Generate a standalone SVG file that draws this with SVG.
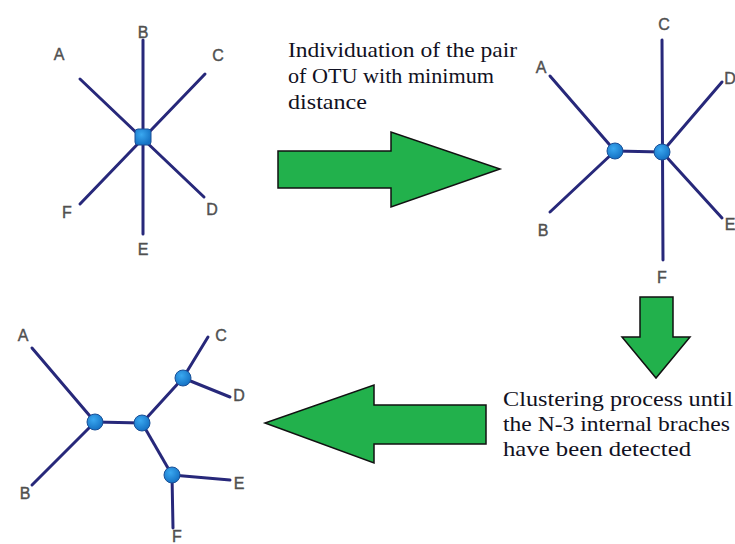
<svg xmlns="http://www.w3.org/2000/svg" width="735" height="544" viewBox="0 0 735 544">
<defs>
<radialGradient id="ng" cx="40%" cy="35%" r="65%">
<stop offset="0" stop-color="#3aa8f0"/>
<stop offset="1" stop-color="#1572c4"/>
</radialGradient>
<style>
.e{stroke:#27287a;stroke-width:3;stroke-linecap:round;fill:none}
.n{fill:url(#ng);stroke:#1a4f96;stroke-width:1}
.l{font-family:"Liberation Sans",Arial,sans-serif;font-size:16px;fill:#505050;stroke:#505050;stroke-width:0.4;text-anchor:middle}
.t{font-family:"Liberation Serif","Times New Roman",serif;font-size:21px;fill:#111122}
.a{fill:#22b14c;stroke:#111;stroke-width:1.5;stroke-linejoin:miter}
</style>
</defs>
<rect width="735" height="544" fill="#ffffff"/>
<g id="connectors">
<line class="e" x1="143" y1="40" x2="143" y2="234"/>
<line class="e" x1="80" y1="79" x2="204" y2="197"/>
<line class="e" x1="205" y1="74" x2="80" y2="204"/>
<line class="e" x1="550" y1="76" x2="615" y2="151"/>
<line class="e" x1="550" y1="212" x2="615" y2="151"/>
<line class="e" x1="615" y1="151" x2="662" y2="152"/>
<line class="e" x1="662" y1="40" x2="663" y2="260"/>
<line class="e" x1="662" y1="152" x2="722" y2="82"/>
<line class="e" x1="662" y1="152" x2="722" y2="218"/>
<line class="e" x1="32" y1="348" x2="95" y2="422"/>
<line class="e" x1="32" y1="485" x2="95" y2="422"/>
<line class="e" x1="95" y1="422" x2="142" y2="423"/>
<line class="e" x1="142" y1="423" x2="183" y2="378"/>
<line class="e" x1="183" y1="378" x2="208" y2="337"/>
<line class="e" x1="183" y1="378" x2="230" y2="397"/>
<line class="e" x1="142" y1="423" x2="172" y2="475"/>
<line class="e" x1="172" y1="475" x2="230" y2="480"/>
<line class="e" x1="172" y1="475" x2="173" y2="528"/>
</g>
<g id="tree1">
<rect class="n" x="135" y="129" width="16" height="16" rx="3"/>
<text class="l" x="143" y="38">B</text>
<text class="l" x="59" y="60">A</text>
<text class="l" x="218" y="61">C</text>
<text class="l" x="67" y="218">F</text>
<text class="l" x="212" y="215">D</text>
<text class="l" x="143" y="255">E</text>
</g>
<g id="tree2">
<circle class="n" cx="615" cy="151" r="8"/>
<circle class="n" cx="662" cy="152" r="8"/>
<text class="l" x="541" y="73">A</text>
<text class="l" x="664" y="30">C</text>
<text class="l" x="730" y="84">D</text>
<text class="l" x="730" y="230">E</text>
<text class="l" x="543" y="236">B</text>
<text class="l" x="662" y="283">F</text>
</g>
<g id="tree3">
<circle class="n" cx="95" cy="422" r="8"/>
<circle class="n" cx="142" cy="423" r="8"/>
<circle class="n" cx="183" cy="378" r="8"/>
<circle class="n" cx="172" cy="475" r="8"/>
<text class="l" x="23" y="341">A</text>
<text class="l" x="221" y="341">C</text>
<text class="l" x="239" y="401">D</text>
<text class="l" x="239" y="489">E</text>
<text class="l" x="25" y="499">B</text>
<text class="l" x="177" y="542">F</text>
</g>
<g id="arrow-right">
<polygon class="a" points="278,151 391,151 391,132 500,169 391,207 391,188 278,188"/>
</g>
<g id="arrow-down">
<polygon class="a" points="640,297 673,297 673,337 690,337 656,378 622,337 640,337"/>
</g>
<g id="arrow-left">
<polygon class="a" points="486,405 374,405 374,385 265,423 374,463 374,444 486,444"/>
</g>
<g id="text1">
<text class="t" x="288" y="57" textLength="229" lengthAdjust="spacingAndGlyphs">Individuation of the pair</text>
<text class="t" x="288" y="83" textLength="206" lengthAdjust="spacingAndGlyphs">of OTU with minimum</text>
<text class="t" x="288" y="109" textLength="79" lengthAdjust="spacingAndGlyphs">distance</text>
</g>
<g id="text2">
<text class="t" x="503" y="406" textLength="230" lengthAdjust="spacingAndGlyphs">Clustering process until</text>
<text class="t" x="503" y="431" textLength="227" lengthAdjust="spacingAndGlyphs">the N-3 internal braches</text>
<text class="t" x="503" y="456" textLength="188" lengthAdjust="spacingAndGlyphs">have been detected</text>
</g>
</svg>
